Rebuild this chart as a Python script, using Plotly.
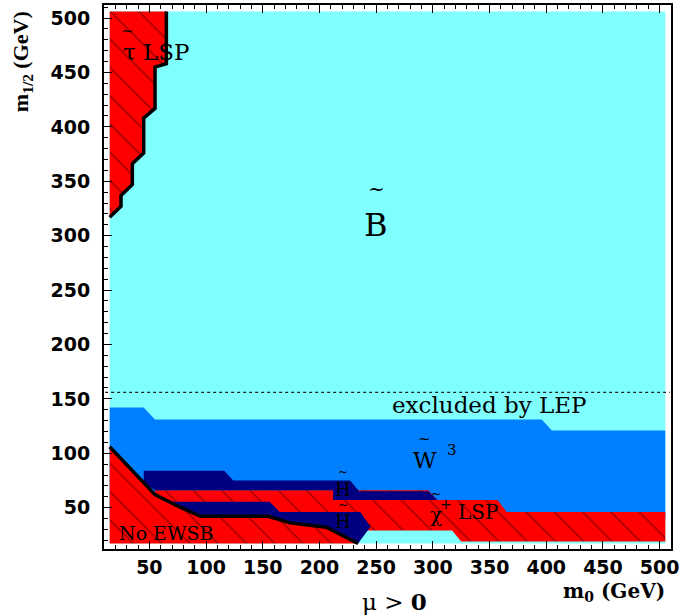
import plotly.graph_objects as go

# ---- region boundaries (m0, m1/2 in GeV) ----
data_m0 = [15, 505]
data_m12 = [17, 506]

tau_m0 = [65, 65, 55, 55, 45, 45, 35, 35, 25, 25, 15]
tau_m12 = [506, 458, 455, 417, 408, 376, 366, 347, 337, 327, 317]

wino_top_m0 = [15, 45, 55, 396, 405, 505]
wino_top_m12 = [142, 142, 131, 131, 121, 121]
wino_floor_m12 = 40

noewsb_m0 = [15, 55, 74, 95, 155, 174, 206, 234]
noewsb_m12 = [106, 62, 52, 42, 42, 36, 32, 17]

chi_top_m0 = [55, 296, 304, 357, 365, 505]
chi_top_m12 = [66, 66, 57, 57, 46, 46]
chi_bot_m0 = [505, 325, 317, 240, 234]
chi_bot_m12 = [19, 19, 29, 29, 17]

hup_m0 = [45, 116, 124, 227, 235, 296, 304, 212, 212, 55, 45]
hup_m12 = [84, 84, 75, 75, 65, 65, 57, 57, 66, 66, 73]

hlo_m0 = [68, 156, 165, 236, 245, 234]
hlo_m12 = [55.5, 55.5, 46, 46, 32.5, 17]

lep_m12 = 156

x_ticks = [50, 100, 150, 200, 250, 300, 350, 400, 450, 500]
y_ticks = [50, 100, 150, 200, 250, 300, 350, 400, 450, 500]

CYAN = "#80FFFF"
BLUE = "#0080FF"
NAVY = "#000080"
RED = "#FF0000"

hatch = dict(shape="\\", fgcolor="black", bgcolor=RED, size=20, solidity=0.06)

fig = go.Figure()


def poly(xs, ys, color, pattern=None):
    kw = dict(x=xs + [xs[0]], y=ys + [ys[0]], mode="lines", fill="toself",
              fillcolor=color, line=dict(width=0, color=color),
              hoverinfo="skip", showlegend=False)
    if pattern:
        kw["fillpattern"] = pattern
    fig.add_trace(go.Scatter(**kw))


# cyan base (Bino region)
poly([data_m0[0], data_m0[1], data_m0[1], data_m0[0]],
     [data_m12[0], data_m12[0], data_m12[1], data_m12[1]], CYAN)

# Wino region
poly(wino_top_m0 + [wino_top_m0[-1], wino_top_m0[0]],
     wino_top_m12 + [wino_floor_m12, wino_floor_m12], BLUE)

# chargino LSP band
poly(chi_top_m0 + chi_bot_m0 + noewsb_m0[6:0:-1],
     chi_top_m12 + chi_bot_m12 + noewsb_m12[6:0:-1], RED, hatch)

# Higgsino regions
poly(hup_m0, hup_m12, NAVY)
poly(hlo_m0 + noewsb_m0[6:1:-1], hlo_m12 + noewsb_m12[6:1:-1], NAVY)

# No EWSB
poly(noewsb_m0 + [noewsb_m0[0]], noewsb_m12 + [data_m12[0]], RED, hatch)

# stau LSP
poly([tau_m0[-1]] + tau_m0, [data_m12[1]] + tau_m12, RED, hatch)

# boundary lines
fig.add_trace(go.Scatter(x=noewsb_m0, y=noewsb_m12, mode="lines",
                         line=dict(color="black", width=3.5),
                         hoverinfo="skip", showlegend=False))
fig.add_trace(go.Scatter(x=tau_m0, y=tau_m12, mode="lines",
                         line=dict(color="black", width=3.5),
                         hoverinfo="skip", showlegend=False))
# LEP limit
fig.add_trace(go.Scatter(x=[11, 509], y=[lep_m12, lep_m12], mode="lines",
                         line=dict(color="#222222", width=1.2, dash="3px,3px"),
                         hoverinfo="skip", showlegend=False))

SERIF = "DejaVu Serif"


def txt(x, y, s, size, ref="data", family=SERIF, **kw):
    a = dict(x=x, y=y, text=s, showarrow=False, xanchor="center", yanchor="middle",
             font=dict(family=family, size=size, color="black"))
    if ref == "paper":
        a.update(xref="paper", yref="paper")
    a.update(kw)
    fig.add_annotation(**a)


# labels inside the plot
txt(56, 469, "τ LSP", 23)
txt(31, 488, "~", 15)
txt(250, 310, "B", 32)
txt(250, 343, "~", 20)
txt(350, 144, "excluded by LEP", 23)
txt(293, 94, "W", 23)
txt(293, 113, "~", 15)
txt(317, 103, "3", 15)
txt(221, 67, "H", 18)
txt(221, 83, "~", 12)
txt(221, 37, "H", 18)
txt(221, 52, "~", 12)
txt(303, 43, "χ", 20)
txt(303, 62.5, "~", 12)
txt(312, 53.5, "+", 14)
txt(340, 46, "LSP", 20)
txt(65, 27, "No EWSB", 19)

# axis titles / labels outside the plot
txt(-0.1446, 0.895, "<b>m<sub>1/2</sub> (GeV)</b>", 22, ref="paper",
    family="Liberation Serif", textangle=-90)
txt(0.993, -0.079, "<b>m<sub>0</sub> (GeV)</b>", 20, ref="paper", xanchor="right")
txt(0.513, -0.0956, "μ &gt; <b>0</b>", 23, ref="paper")

tickfont = dict(family="DejaVu Sans", size=19, color="black", weight="bold")

fig.update_xaxes(range=[10, 510], tickmode="array", tickvals=x_ticks,
                 ticks="inside", ticklen=8, tickwidth=1, tickcolor="black",
                 minor=dict(tickmode="linear", tick0=0, dtick=10, ticks="inside",
                            ticklen=4, tickcolor="black", showgrid=False),
                 showline=True, linecolor="black", linewidth=2, mirror="ticks",
                 showgrid=False, zeroline=False, tickfont=tickfont,
                 automargin=False)
fig.update_yaxes(range=[12, 512], tickmode="array", tickvals=y_ticks,
                 ticks="inside", ticklen=8, tickwidth=1, tickcolor="black",
                 minor=dict(tickmode="linear", tick0=0, dtick=10, ticks="inside",
                            ticklen=4, tickcolor="black", showgrid=False),
                 showline=True, linecolor="black", linewidth=2, mirror=True,
                 showgrid=False, zeroline=False, tickfont=tickfont,
                 ticklabelstandoff=8, automargin=False)

fig.update_layout(width=682, height=616,
                  margin=dict(l=104, r=11, t=5, b=67),
                  plot_bgcolor="white", paper_bgcolor="white",
                  showlegend=False)

fig.write_html("out.html", config={"displayModeBar": False},
               post_script="document.body.style.margin='0';document.body.style.overflow='hidden';")
